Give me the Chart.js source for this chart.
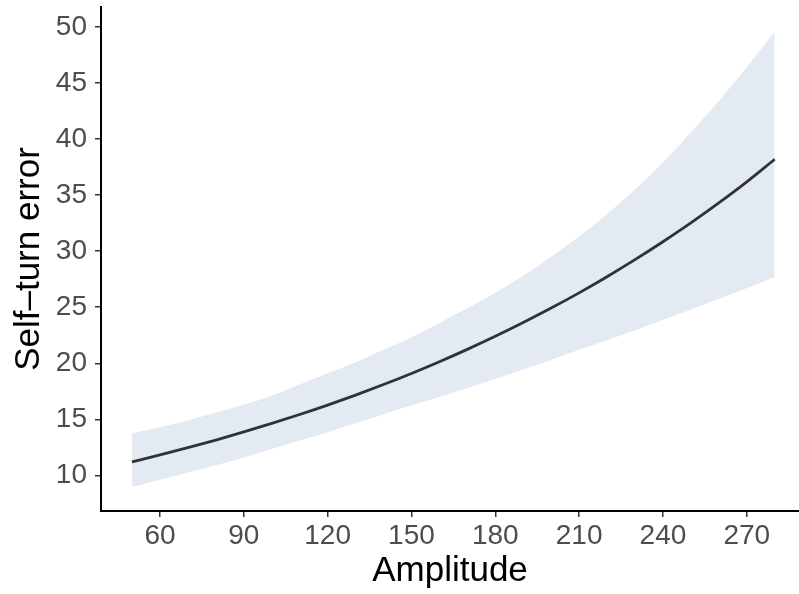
<!DOCTYPE html>
<html>
<head>
<meta charset="utf-8">
<script src="https://cdn.jsdelivr.net/npm/chart.js@4"></script>
<style>
  html, body { margin: 0; padding: 0; background: #fff; }
  canvas { display: block; }
</style>
</head>
<body>
<canvas id="chart" width="799" height="594"></canvas>
<script>
const amplitude = [50, 60, 70, 80, 90, 100, 110, 120, 130, 140, 150, 160,
    170, 180, 190, 200, 210, 220, 230, 240, 250, 260, 270, 280];

// fitted self-turn error
const fitted = [11.21, 11.82, 12.47, 13.15, 13.87, 14.63, 15.43, 16.27, 17.16, 18.10, 19.09, 20.14,
    21.24, 22.40, 23.63, 24.92, 26.28, 27.72, 29.24, 30.84, 32.52, 34.30, 36.18, 38.20];

// confidence band
const upper = [13.75, 14.3, 14.9, 15.6, 16.3, 17.1, 18.1, 19.1, 20.1, 21.2, 22.3, 23.6,
    24.9, 26.3, 27.8, 29.5, 31.3, 33.3, 35.5, 37.9, 40.6, 43.4, 46.4, 49.6];
const lower = [8.95, 9.6, 10.25, 10.9, 11.6, 12.35, 13.1, 13.85, 14.65, 15.45, 16.25, 17.0,
    17.8, 18.6, 19.45, 20.3, 21.2, 22.05, 22.95, 23.85, 24.8, 25.75, 26.7, 27.7];

const xTicks = [60, 90, 120, 150, 180, 210, 240, 270];
const yTicks = [10, 15, 20, 25, 30, 35, 40, 45, 50];

const FONT = "'Liberation Sans', Arial, Helvetica, sans-serif";

function points(ys) {
    return amplitude.map((x, i) => ({ x: x, y: ys[i] }));
}

// fixed axis boxes so the plot area lands where the original one is
function fixBox(size) {
    return (scale) => {
        if (scale.isHorizontal()) scale.height = size;
        else scale.width = size;
        scale.paddingTop = 0;
        scale.paddingBottom = 0;
        scale.paddingLeft = 0;
        scale.paddingRight = 0;
    };
}

function setTicks(list) {
    return (scale) => { scale.ticks = list.map(v => ({ value: v })); };
}

new Chart(document.getElementById('chart').getContext('2d'), {
    type: 'line',
    data: {
        datasets: [
            {
                // fit line first so it is drawn on top of the band
                data: points(fitted),
                borderColor: '#2F3338',
                borderWidth: 2.8,
                pointRadius: 0,
                fill: false,
                cubicInterpolationMode: 'monotone'
            },
            {
                data: points(upper),
                borderWidth: 0,
                pointRadius: 0,
                backgroundColor: '#E4EAF2',
                fill: '+1',
                cubicInterpolationMode: 'monotone'
            },
            {
                data: points(lower),
                borderWidth: 0,
                pointRadius: 0,
                backgroundColor: '#E4EAF2',
                fill: false,
                cubicInterpolationMode: 'monotone'
            }
        ]
    },
    options: {
        responsive: false,
        animation: false,
        layout: { padding: { top: 7, right: 0, bottom: 0, left: 0 } },
        plugins: {
            legend: { display: false },
            tooltip: { enabled: false }
        },
        scales: {
            x: {
                type: 'linear',
                min: 38.9,
                max: 288.7,
                afterBuildTicks: setTicks(xTicks),
                afterFit: fixBox(83),
                border: { display: true, color: '#000', width: 2 },
                grid: { drawOnChartArea: false, drawTicks: true, tickLength: 6, color: '#333', lineWidth: 1.5 },
                ticks: { color: '#4D4D4D', padding: 2, font: { family: FONT, size: 28 }, maxRotation: 0 },
                title: {
                    display: true,
                    text: 'Amplitude',
                    color: '#000',
                    font: { family: FONT, size: 35 },
                    padding: { top: 0, bottom: 2 }
                }
            },
            y: {
                type: 'linear',
                min: 6.82,
                max: 51.78,
                afterBuildTicks: setTicks(yTicks),
                afterFit: fixBox(101),
                border: { display: true, color: '#000', width: 2 },
                grid: { drawOnChartArea: false, drawTicks: true, tickLength: 6, color: '#333', lineWidth: 1.5 },
                ticks: { color: '#4D4D4D', padding: 8, font: { family: FONT, size: 28 } },
                title: {
                    display: true,
                    text: 'Self–turn error',
                    color: '#000',
                    font: { family: FONT, size: 35 },
                    padding: { top: 8, bottom: 0 }
                }
            }
        }
    }
});
</script>
</body>
</html>
